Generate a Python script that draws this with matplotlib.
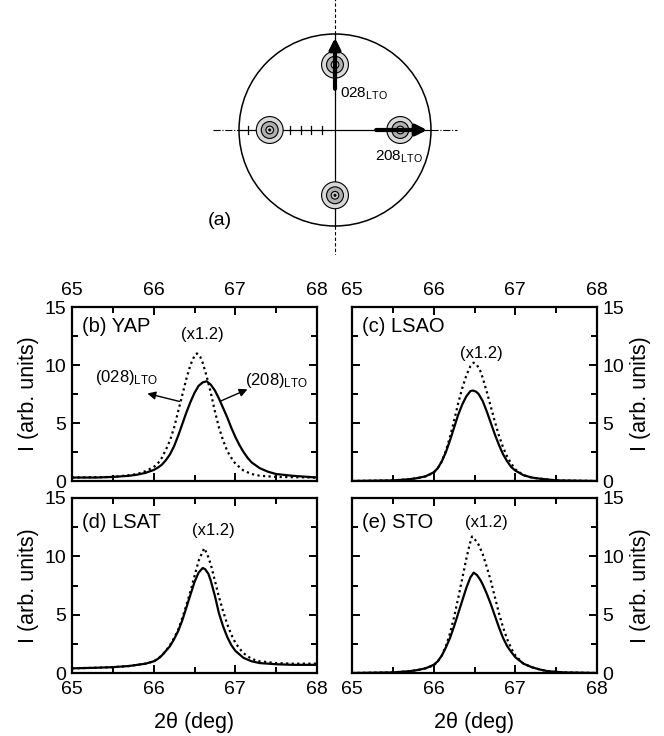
import numpy as np
import matplotlib
matplotlib.use('Agg')
import matplotlib.pyplot as plt
from matplotlib.patches import Circle

plt.rcParams['font.family'] = ['Liberation Sans', 'DejaVu Sans']
plt.rcParams['mathtext.fontset'] = 'custom'
plt.rcParams['mathtext.rm'] = 'Liberation Sans'
plt.rcParams['mathtext.it'] = 'Liberation Sans:italic'

# ---- data (2theta in deg, intensity in arb. units) ----
# (b) YAP
yap_x_208 = [65.0, 65.3, 65.5, 65.7, 65.8, 65.9, 66.0, 66.05, 66.1, 66.15, 66.2, 66.25, 66.3, 66.35, 66.4, 66.45,
             66.5, 66.55, 66.6, 66.65, 66.7, 66.75, 66.8, 66.85, 66.9, 66.95, 67.0, 67.05, 67.1, 67.15, 67.2, 67.3,
             67.4, 67.5, 67.7, 68.0]
yap_i_208 = [0.3, 0.3, 0.35, 0.45, 0.55, 0.7, 0.95, 1.15, 1.4, 1.8, 2.3, 3.0, 3.9, 4.9, 5.9, 6.8,
             7.6, 8.2, 8.5, 8.6, 8.3, 7.8, 7.1, 6.3, 5.5, 4.6, 3.8, 3.1, 2.5, 2.0, 1.6, 1.1,
             0.8, 0.6, 0.45, 0.3]
yap_x_028 = [65.0, 65.5, 65.7, 65.8, 65.9, 66.0, 66.05, 66.1, 66.15, 66.2, 66.25, 66.3, 66.35, 66.4, 66.45, 66.5,
             66.53, 66.57, 66.6, 66.65, 66.7, 66.75, 66.8, 66.85, 66.9, 66.95, 67.0, 67.1, 67.2, 67.3, 67.5, 68.0]
yap_i_028 = [0.3, 0.35, 0.5, 0.6, 0.85, 1.2, 1.5, 2.0, 2.7, 3.5, 4.6, 6.0, 7.4, 8.8, 10.0, 10.8,
             11.0, 10.7, 10.2, 9.0, 7.6, 6.0, 4.6, 3.5, 2.6, 2.0, 1.5, 0.9, 0.6, 0.45, 0.35, 0.3]

# (c) LSAO
lsao_x_208 = [65.0, 65.5, 65.7, 65.8, 65.9, 66.0, 66.05, 66.1, 66.15, 66.2, 66.25, 66.3, 66.35, 66.4, 66.45, 66.48,
              66.52, 66.55, 66.6, 66.65, 66.7, 66.75, 66.8, 66.85, 66.9, 66.95, 67.0, 67.1, 67.2, 67.3, 67.5, 68.0]
lsao_i_208 = [0.0, 0.05, 0.15, 0.25, 0.4, 0.75, 1.1, 1.7, 2.5, 3.5, 4.6, 5.7, 6.6, 7.3, 7.75, 7.8,
              7.7, 7.5, 6.9, 6.0, 5.0, 4.0, 3.1, 2.3, 1.7, 1.2, 0.9, 0.5, 0.3, 0.2, 0.05, 0.0]
lsao_x_028 = [65.0, 65.5, 65.7, 65.8, 65.9, 66.0, 66.05, 66.1, 66.15, 66.2, 66.25, 66.3, 66.35, 66.4, 66.45, 66.49,
              66.53, 66.57, 66.6, 66.65, 66.7, 66.75, 66.8, 66.85, 66.9, 66.95, 67.0, 67.1, 67.2, 67.3, 67.5, 68.0]
lsao_i_028 = [0.0, 0.05, 0.15, 0.25, 0.4, 0.7, 1.1, 1.7, 2.6, 3.8, 5.2, 6.7, 8.0, 9.1, 9.9, 10.2,
              10.0, 9.5, 8.9, 7.7, 6.4, 5.1, 3.9, 2.9, 2.1, 1.5, 1.0, 0.5, 0.3, 0.2, 0.05, 0.0]

# (d) LSAT
lsat_x_208 = [65.0, 65.3, 65.5, 65.7, 65.8, 65.9, 66.0, 66.05, 66.1, 66.15, 66.2, 66.25, 66.3, 66.35, 66.4, 66.45,
              66.5, 66.55, 66.6, 66.63, 66.67, 66.7, 66.75, 66.8, 66.85, 66.9, 66.95, 67.0, 67.05, 67.1, 67.2, 67.3,
              67.5, 67.7, 68.0]
lsat_i_208 = [0.4, 0.45, 0.5, 0.6, 0.7, 0.8, 1.0, 1.2, 1.5, 1.9, 2.3, 2.9, 3.6, 4.5, 5.6, 6.7,
              7.8, 8.6, 9.0, 8.9, 8.5, 7.9, 6.6, 5.1, 4.0, 3.1, 2.4, 1.9, 1.6, 1.3, 1.0, 0.85,
              0.75, 0.7, 0.7]
lsat_x_028 = [65.0, 65.3, 65.5, 65.7, 65.8, 65.9, 66.0, 66.05, 66.1, 66.15, 66.2, 66.25, 66.3, 66.35, 66.4, 66.45,
              66.5, 66.55, 66.58, 66.62, 66.66, 66.7, 66.75, 66.8, 66.85, 66.9, 66.95, 67.0, 67.05, 67.1, 67.2, 67.3,
              67.5, 67.7, 68.0]
lsat_i_028 = [0.4, 0.45, 0.5, 0.6, 0.7, 0.8, 1.0, 1.2, 1.5, 1.9, 2.4, 3.0, 3.7, 4.7, 5.8, 7.0,
              8.3, 9.6, 10.1, 10.7, 10.1, 9.3, 7.9, 6.5, 5.3, 4.2, 3.3, 2.6, 2.1, 1.7, 1.2, 1.0,
              0.85, 0.8, 0.8]

# (e) STO
sto_x_208 = [65.0, 65.5, 65.7, 65.8, 65.9, 66.0, 66.05, 66.1, 66.15, 66.2, 66.25, 66.3, 66.35, 66.4, 66.45, 66.49,
             66.53, 66.57, 66.6, 66.65, 66.7, 66.75, 66.8, 66.85, 66.9, 66.95, 67.0, 67.1, 67.2, 67.3, 67.4, 67.6, 68.0]
sto_i_208 = [0.0, 0.05, 0.15, 0.25, 0.4, 0.7, 1.0, 1.5, 2.2, 3.0, 4.0, 5.1, 6.2, 7.3, 8.2, 8.6,
             8.4, 8.0, 7.6, 6.8, 5.9, 4.9, 3.9, 3.0, 2.3, 1.8, 1.35, 0.8, 0.5, 0.3, 0.15, 0.05, 0.0]
sto_x_028 = [65.0, 65.5, 65.7, 65.8, 65.9, 66.0, 66.05, 66.1, 66.15, 66.2, 66.25, 66.3, 66.35, 66.4, 66.44, 66.47,
             66.5, 66.55, 66.6, 66.65, 66.7, 66.75, 66.8, 66.85, 66.9, 66.95, 67.0, 67.1, 67.2, 67.3, 67.4, 67.6, 68.0]
sto_i_028 = [0.0, 0.05, 0.15, 0.25, 0.4, 0.65, 1.0, 1.5, 2.3, 3.4, 4.8, 6.4, 8.1, 9.8, 11.0, 11.7,
             11.5, 11.0, 10.2, 9.1, 7.9, 6.5, 5.1, 3.9, 2.9, 2.1, 1.5, 0.8, 0.5, 0.3, 0.15, 0.05, 0.0]

panel_labels = ['(b) YAP', '(c) LSAO', '(d) LSAT', '(e) STO']
scale_text = '(x1.2)'
scale_pos = [(66.6, 12.6), (66.59, 11.0), (66.73, 12.25), (66.65, 12.9)]
label_y = [13.3, 13.3, 12.9, 12.9]

xticks = [65, 66, 67, 68]
yticks = [0, 5, 10, 15]

# pole figure schematic (circle radius = 1)
pole_r = 0.68
pole_angles = [90, 180, 0, 270]
scale_marks = [-0.906, -0.80, -0.69, -0.58, -0.47, -0.355, -0.25, -0.135]

W, H = 664, 736
fig = plt.figure(figsize=(W / 100, H / 100), dpi=100)


def frac(x0, y0, x1, y1):
    # pixel box -> figure fraction
    return [x0 / W, 1 - y1 / H, (x1 - x0) / W, (y1 - y0) / H]


boxes = [frac(72, 307, 317, 481), frac(352, 307, 597, 481),
         frac(72, 498, 317, 673), frac(352, 498, 597, 673)]
series = [(yap_x_208, yap_i_208, yap_x_028, yap_i_028),
          (lsao_x_208, lsao_i_208, lsao_x_028, lsao_i_028),
          (lsat_x_208, lsat_i_208, lsat_x_028, lsat_i_028),
          (sto_x_208, sto_i_208, sto_x_028, sto_i_028)]

axes = []
for k, (box, s) in enumerate(zip(boxes, series)):
    ax = fig.add_axes(box)
    ax.plot(s[0], s[1], color='black', lw=1.6)
    ax.plot(s[2], s[3], color='black', lw=1.6, ls=(0, (1, 1.5)))
    ax.set_xlim(65, 68)
    ax.set_ylim(0, 15)
    ax.set_xticks(xticks)
    ax.set_yticks(yticks)
    ax.set_xticks(np.arange(65.5, 68, 1.0), minor=True)
    ax.set_yticks([2.5, 7.5, 12.5], minor=True)
    top = k < 2
    right = k % 2 == 1
    ax.tick_params(which='both', direction='in', top=True, right=True,
                   labeltop=top, labelbottom=not top,
                   labelleft=not right, labelright=right,
                   labelsize=14, width=1.4)
    ax.tick_params(axis='x', pad=6)
    ax.tick_params(axis='y', pad=4)
    ax.tick_params(which='major', length=6)
    ax.tick_params(which='minor', length=4)
    for sp in ax.spines.values():
        sp.set_linewidth(1.6)
    if right:
        ax.yaxis.set_label_position('right')
    ax.set_ylabel('I (arb. units)', fontsize=15.5, labelpad=4)
    if not top:
        ax.set_xlabel('2θ (deg)', fontsize=15.5, labelpad=10)
    ax.text(65.12, label_y[k], panel_labels[k], fontsize=14.5, va='center', ha='left')
    ax.text(scale_pos[k][0], scale_pos[k][1], scale_text, fontsize=12, ha='center', va='center')
    axes.append(ax)

axb = axes[0]
axb.annotate('', xy=(65.89, 7.6), xytext=(66.35, 6.8),
             arrowprops=dict(arrowstyle='-|>', color='black', lw=1.0, mutation_scale=12))
axb.text(66.05, 8.9, r'(028)$_{\rm LTO}$', fontsize=12, ha='right', va='center')
axb.annotate('', xy=(67.18, 8.0), xytext=(66.79, 6.8),
             arrowprops=dict(arrowstyle='-|>', color='black', lw=1.0, mutation_scale=12))
axb.text(67.12, 8.7, r'(208)$_{\rm LTO}$', fontsize=12, ha='left', va='center')

# ---- (a) pole figure schematic ----
cx, cy, rpx = 335, 130, 96
axa = fig.add_axes(frac(180, 0, 490, 255))
axa.set_xlim(-(cx - 180) / rpx, (490 - cx) / rpx)
axa.set_ylim(-(255 - cy) / rpx, cy / rpx)
axa.axis('off')

axa.add_patch(Circle((0, 0), 1.0, fill=False, ec='black', lw=1.1))
axa.plot([-1.27, -1.0], [0, 0], color='black', lw=0.8, ls='-.')
axa.plot([1.0, 1.27], [0, 0], color='black', lw=0.8, ls='-.')
axa.plot([-1.0, 1.0], [0, 0], color='black', lw=0.9)
axa.plot([0, 0], [1.0, 1.36], color='black', lw=0.8, ls=(0, (3, 2)))
axa.plot([0, 0], [-1.0, -1.3], color='black', lw=0.8, ls=(0, (3, 2)))
axa.plot([0, 0], [-1.0, 1.0], color='black', lw=0.9)
for t in scale_marks:
    axa.plot([t, t], [-0.045, 0.045], color='black', lw=0.9)

for ang in pole_angles:
    px = pole_r * np.cos(np.radians(ang))
    py = pole_r * np.sin(np.radians(ang))
    axa.add_patch(Circle((px, py), 0.14, fc='#d9d9d9', ec='black', lw=0.8, zorder=3))
    axa.add_patch(Circle((px, py), 0.088, fc='#b0b0b0', ec='black', lw=0.8, zorder=4))
    axa.add_patch(Circle((px, py), 0.04, fc='#c8c8c8', ec='black', lw=0.8, zorder=5))
    axa.add_patch(Circle((px, py), 0.012, fc='black', ec='black', lw=0.5, zorder=6))

axa.annotate('', xy=(0, 0.99), xytext=(0, 0.40),
             arrowprops=dict(arrowstyle='-|>', color='black', lw=3, mutation_scale=16), zorder=7)
axa.annotate('', xy=(0.99, 0), xytext=(0.40, 0),
             arrowprops=dict(arrowstyle='-|>', color='black', lw=3, mutation_scale=16), zorder=7)
axa.text(0.05, 0.38, r'028$_{\rm LTO}$', fontsize=11, ha='left', va='center')
axa.text(0.42, -0.28, r'208$_{\rm LTO}$', fontsize=11, ha='left', va='center')
axa.text(-1.33, -0.94, '(a)', fontsize=14, ha='left', va='center')

fig.savefig('out.png', dpi=100)
